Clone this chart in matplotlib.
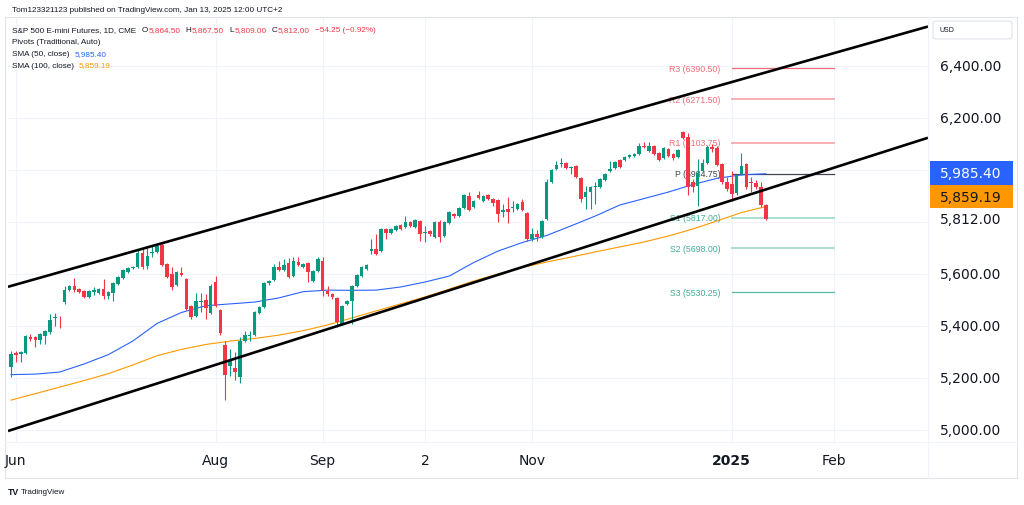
import matplotlib
matplotlib.use("Agg")
import matplotlib.pyplot as plt
import matplotlib.transforms as mtransforms
from matplotlib.patches import Rectangle, FancyBboxPatch
import numpy as np
import pandas as pd

W, H = 1024, 506

# ---- data -------------------------------------------------------------
first_day = "2024-05-31"
holidays = ["2024-06-19", "2024-07-04", "2024-09-02", "2024-11-28",
            "2024-12-25", "2025-01-01", "2025-01-20"]

opens = [5242, 5296, 5292, 5298, 5358, 5356, 5346, 5362, 5377, 5432,
         5435, 5492, 5540, 5554, 5542, 5535, 5512, 5531, 5527, 5542,
         5515, 5527, 5562, 5585, 5608, 5623, 5627, 5681, 5631, 5679,
         5685, 5712, 5638, 5600, 5558, 5604, 5581, 5477, 5438, 5492,
         5500, 5450, 5569, 5462, 5327, 5246, 5238, 5204, 5342, 5362,
         5365, 5450, 5473, 5565, 5577, 5627, 5615, 5642, 5592, 5646,
         5627, 5642, 5573, 5612, 5650, 5535, 5523, 5508, 5408, 5485,
         5496, 5554, 5592, 5619, 5688, 5696, 5688, 5773, 5758, 5769,
         5788, 5781, 5800, 5781, 5804, 5758, 5765, 5742, 5800, 5746,
         5796, 5831, 5823, 5854, 5900, 5858, 5904, 5881, 5904, 5888,
         5885, 5838, 5850, 5854, 5850, 5877, 5835, 5735, 5754, 5742,
         5812, 5954, 6004, 6023, 6027, 6008, 6015, 5969, 5896, 5915,
         5935, 5935, 5962, 5996, 6008, 6038, 6038, 6050, 6054, 6061,
         6092, 6073, 6092, 6065, 6046, 6081, 6061, 6050, 6146, 6127,
         5954, 5938, 5996, 6027, 6088, 6085, 6023, 5954, 5946, 5912,
         5985, 6023, 5954, 5950, 5935, 5864.5]
highs = [5304, 5302, 5304, 5366, 5369, 5362, 5373, 5385, 5446, 5450,
         5438, 5554, 5558, 5585, 5546, 5538, 5540, 5550, 5546, 5581,
         5535, 5569, 5592, 5619, 5627, 5631, 5692, 5700, 5704, 5708,
         5715, 5719, 5642, 5627, 5612, 5627, 5585, 5481, 5527, 5527,
         5523, 5562, 5592, 5465, 5342, 5312, 5300, 5358, 5381, 5381,
         5458, 5477, 5569, 5577, 5638, 5650, 5658, 5662, 5665, 5665,
         5642, 5646, 5615, 5665, 5665, 5554, 5527, 5512, 5481, 5500,
         5558, 5600, 5631, 5638, 5735, 5754, 5777, 5777, 5777, 5789,
         5792, 5823, 5804, 5812, 5808, 5785, 5769, 5804, 5808, 5804,
         5842, 5835, 5858, 5908, 5915, 5885, 5919, 5904, 5908, 5892,
         5888, 5869, 5896, 5881, 5873, 5888, 5838, 5777, 5769, 5808,
         5965, 6004, 6035, 6046, 6031, 6016, 6019, 5973, 5938, 5938,
         5954, 5969, 5988, 6035, 6035, 6042, 6054, 6062, 6065, 6104,
         6108, 6108, 6096, 6069, 6088, 6085, 6065, 6081, 6150, 6142,
         5965, 6042, 6042, 6096, 6100, 6092, 6027, 5973, 5996, 5985,
         6065, 6027, 5973, 5962, 5954, 5867.5]
lows = [5204, 5262, 5262, 5292, 5342, 5319, 5331, 5331, 5369, 5400,
        5392, 5485, 5535, 5531, 5527, 5508, 5508, 5519, 5523, 5504,
        5504, 5496, 5558, 5581, 5604, 5619, 5623, 5619, 5619, 5665,
        5681, 5631, 5585, 5538, 5554, 5592, 5462, 5427, 5435, 5454,
        5427, 5446, 5473, 5365, 5115, 5208, 5192, 5181, 5338, 5342,
        5362, 5446, 5469, 5558, 5573, 5612, 5612, 5585, 5588, 5631,
        5623, 5569, 5569, 5608, 5515, 5515, 5504, 5396, 5404, 5481,
        5408, 5550, 5588, 5615, 5677, 5673, 5685, 5735, 5754, 5765,
        5769, 5777, 5781, 5777, 5727, 5723, 5746, 5738, 5723, 5742,
        5792, 5815, 5819, 5850, 5842, 5854, 5888, 5877, 5885, 5862,
        5800, 5819, 5796, 5838, 5846, 5842, 5727, 5727, 5727, 5738,
        5808, 5950, 6000, 6012, 6004, 5985, 5969, 5877, 5850, 5850,
        5869, 5931, 5958, 5992, 6004, 6008, 6035, 6046, 6050, 6058,
        6085, 6069, 6058, 6035, 6042, 6050, 6038, 6046, 6119, 5904,
        5915, 5862, 5992, 6023, 6069, 6015, 5946, 5919, 5881, 5904,
        5981, 5927, 5915, 5927, 5858, 5809]
closes = [5292, 5290, 5300, 5362, 5350, 5348, 5369, 5381, 5423, 5435,
          5433, 5538, 5554, 5538, 5531, 5512, 5535, 5538, 5542, 5515,
          5531, 5565, 5588, 5615, 5623, 5627, 5681, 5627, 5669, 5683,
          5708, 5635, 5588, 5550, 5608, 5596, 5465, 5435, 5496, 5496,
          5469, 5554, 5477, 5373, 5212, 5265, 5223, 5342, 5365, 5365,
          5454, 5473, 5565, 5573, 5627, 5615, 5635, 5588, 5650, 5635,
          5638, 5608, 5612, 5658, 5535, 5523, 5512, 5415, 5477, 5496,
          5554, 5596, 5627, 5635, 5696, 5677, 5773, 5758, 5773, 5785,
          5773, 5800, 5785, 5808, 5754, 5762, 5754, 5800, 5742, 5800,
          5838, 5823, 5854, 5904, 5846, 5881, 5892, 5900, 5888, 5873,
          5831, 5846, 5838, 5858, 5869, 5846, 5735, 5754, 5742, 5804,
          5954, 6000, 6019, 6027, 6008, 6012, 5973, 5888, 5915, 5935,
          5938, 5965, 5985, 6004, 6031, 6012, 6050, 6058, 6061, 6092,
          6088, 6092, 6061, 6038, 6085, 6054, 6046, 6077, 6123, 5935,
          5935, 5988, 6027, 6088, 6081, 6019, 5954, 5927, 5908, 5981,
          6015, 5935, 5950, 5935, 5866, 5812]
change = -54.25

# moving averages every 5th session
sma_step = 5
sma50 = [5213, 5215, 5223, 5254, 5290, 5342, 5410, 5452, 5478, 5485,
         5492, 5508, 5532, 5538, 5537, 5538, 5550, 5569, 5592, 5644,
         5688, 5721, 5748, 5785, 5823, 5865, 5890, 5915, 5944, 5968,
         5981, 5985.40]
sma100 = [5115, 5140, 5165, 5190, 5217, 5250, 5286, 5310, 5329, 5342,
          5352, 5365, 5382, 5404, 5431, 5458, 5485, 5512, 5542, 5573,
          5600, 5625, 5646, 5665, 5685, 5704, 5723, 5746, 5773, 5804,
          5836, 5859.19]

pivot_names = ["R3", "R2", "R1", "P", "S1", "S2", "S3"]
pivot_values = [6390.50, 6271.50, 6103.75, 5984.75, 5817.00, 5698.00, 5530.25]
pivot_start, pivot_end = "2025-01-02", "2025-02-03"

# hand-drawn channel (date, price) anchors
channel_upper = [("2024-05-31", 5554), ("2025-01-13", 6375)]
channel_lower = [("2024-05-31", 5000), ("2025-01-13", 5925)]

price_labels = [6400, 6200, 5600, 5400, 5200, 5000]
grid_prices = [5000, 5200, 5400, 5600, 5800, 6000, 6200, 6400]
time_labels = [("2024-06-03", "Jun"), ("2024-08-01", "Aug"), ("2024-09-03", "Sep"),
               ("2024-10-02", "2"), ("2024-11-01", "Nov"), ("2025-01-02", "2025"),
               ("2025-02-03", "Feb")]

GREEN, RED = "#089981", "#F23645"
BLUE, ORANGE = "#2962FF", "#FF9800"
TEXT = "#131722"
SMALL = ["Liberation Sans", "DejaVu Sans"]
FS = 5.9

# ---- session index ----------------------------------------------------
days = pd.bdate_range(first_day, "2025-02-28")
days = days[~days.isin(pd.to_datetime(holidays))]
pos = {d.strftime("%Y-%m-%d"): i for i, d in enumerate(days)}

n = len(closes)
x = np.arange(n)
o, h, l, c = map(np.array, (opens, highs, lows, closes))
up = c >= o
cols = np.where(up, GREEN, RED)

fig = plt.figure(figsize=(W / 100, H / 100), dpi=100)
ax = fig.add_axes([8 / W, 1 - 443 / H, 920 / W, 425 / H])
ax.set_xlim(-0.62, 188.3)
ax.set_ylim(4954, 6588)
for s in ax.spines.values():
    s.set_visible(False)
ax.set_xticks([])
ax.set_yticks([])

# grid
for gp in grid_prices:
    ax.axhline(gp, color="#F0F3FA", lw=0.8, zorder=0)
for d, _ in time_labels:
    ax.axvline(pos[d], color="#F0F3FA", lw=0.8, zorder=0)

# candles
ax.vlines(x, l, h, colors=cols, lw=0.8, zorder=3)
body = np.maximum(np.abs(c - o), 3)
ax.bar(x, body, bottom=np.minimum(o, c), width=0.74, color=cols, lw=0, zorder=4)

# moving averages
sx = np.arange(0, n, sma_step)
ax.plot(sx, sma50, color=BLUE, lw=0.8, zorder=2, solid_joinstyle="round")
ax.plot(sx, sma100, color=ORANGE, lw=0.8, zorder=2, solid_joinstyle="round")

# channel
xl = np.array(ax.get_xlim())
for (d0, p0), (d1, p1) in (channel_upper, channel_lower):
    slope = (p1 - p0) / (pos[d1] - pos[d0])
    ax.plot(xl, p0 + slope * (xl - pos[d0]), color="black", lw=1.9, zorder=5,
            solid_capstyle="butt")

# pivots
piv_cols = {"R3": "#F26B78", "R2": "#F7A9B0", "R1": "#F7A9B0", "P": "#434651",
            "S1": "#A3DACD", "S2": "#A3DACD", "S3": "#5FB8A5"}
lab_cols = {"R": "#F56A77", "P": "#434651", "S": "#3FAE97"}
ps, pe = pos[pivot_start], pos[pivot_end]
for name, val in zip(pivot_names, pivot_values):
    lw = 0.9 if name in ("R3", "S3", "P") else 1.3
    ax.plot([ps, pe], [val, val], color=piv_cols[name], lw=lw, zorder=1)
    ax.annotate(f"{name} ({val:.2f})", (ps, val), xytext=(-8, 0),
                textcoords="offset points", ha="right", va="center",
                fontsize=6.3, family=SMALL, color=lab_cols[name[0]], zorder=2)


# ---- furniture in pixel space -----------------------------------------
def fx(px):
    return px / W


def fy(py):
    return 1 - py / H


renderer = fig.canvas.get_renderer()


def text_row(x0, y0, parts, gap=0):
    """Draw (text, colour, extra_gap) pieces one after another on one row."""
    cur = x0
    for txt, col, g in parts:
        t = fig.text(fx(cur), fy(y0), txt, fontsize=FS, family=SMALL, color=col, va="center")
        cur = t.get_window_extent(renderer).x1 + g
    return cur


fig.add_artist(Rectangle((fx(5), fy(479)), fx(1017) - fx(5), fy(18) - fy(479),
                         transform=fig.transFigure, fill=False, ec="#E0E3EB", lw=0.8))
fig.add_artist(plt.Line2D([fx(928), fx(928)], [fy(18), fy(479)],
                          transform=fig.transFigure, color="#F0F3FA", lw=0.8))
fig.add_artist(plt.Line2D([fx(5), fx(1017)], [fy(443), fy(443)],
                          transform=fig.transFigure, color="#F0F3FA", lw=0.8))

ytr = mtransforms.blended_transform_factory(fig.transFigure, ax.transData)
for p in price_labels:
    fig.text(fx(940), p, f"{p:,.2f}", transform=ytr, va="center", ha="left",
             fontsize=10, color=TEXT)
fig.text(fx(940), fy(220), f"{closes[-1]:,.2f}", va="center", ha="left",
         fontsize=10, color=TEXT)

fig.add_artist(Rectangle((fx(930), fy(186)), fx(1013) - fx(930), fy(162) - fy(186),
                         transform=fig.transFigure, color=BLUE, lw=0))
fig.add_artist(Rectangle((fx(930), fy(209)), fx(1013) - fx(930), fy(186) - fy(209),
                         transform=fig.transFigure, color=ORANGE, lw=0))
fig.text(fx(940), fy(174), f"{sma50[-1]:,.2f}", va="center", ha="left",
         fontsize=10, color="white")
fig.text(fx(940), fy(197.5), f"{sma100[-1]:,.2f}", va="center", ha="left",
         fontsize=10, color=TEXT)

fig.add_artist(FancyBboxPatch((fx(933), fy(40)), fx(1012) - fx(933), fy(22) - fy(40),
                              boxstyle="round,pad=0,rounding_size=0.004",
                              transform=fig.transFigure, fc="white", ec="#E0E3EB", lw=0.8))
fig.text(fx(940), fy(31), "USD", va="center", ha="left", fontsize=5, family=SMALL, color=TEXT)

xtr = mtransforms.blended_transform_factory(ax.transData, fig.transFigure)
for d, lab in time_labels:
    fig.text(pos[d], fy(461), lab, transform=xtr, ha="center", va="center",
             fontsize=10, color=TEXT, fontweight="bold" if lab == "2025" else "normal")

# header + legend
text_row(12, 11, [("Tom123321123 published on TradingView.com, Jan 13, 2025 12:00 UTC+2", TEXT, 0)])
pct = change / (closes[-1] - change) * 100
row1 = [("S&P 500 E-mini Futures, 1D, CME", TEXT, 6)]
for key, val in zip("OHLC", [opens[-1], highs[-1], lows[-1], closes[-1]]):
    row1 += [(key, TEXT, 0.5), (f"{val:,.2f}", RED, 5)]
row1 += [(f"\u2212{abs(change):.2f} (\u2212{abs(pct):.2f}%)", RED, 0)]
text_row(12, 31, row1)
text_row(12, 43, [("Pivots (Traditional, Auto)", TEXT, 0)])
text_row(12, 54.5, [("SMA (50, close)", TEXT, 5), (f"{sma50[-1]:,.2f}", BLUE, 0)])
text_row(12, 66, [("SMA (100, close)", TEXT, 5), (f"{sma100[-1]:,.2f}", ORANGE, 0)])

fig.text(fx(8), fy(493), "TV", fontsize=6.3, fontweight="bold", family=SMALL, color=TEXT, va="center")
fig.text(fx(21), fy(493), "TradingView", fontsize=5.8, family=SMALL, color=TEXT, va="center")

fig.savefig("out.png", dpi=100, facecolor="white")
